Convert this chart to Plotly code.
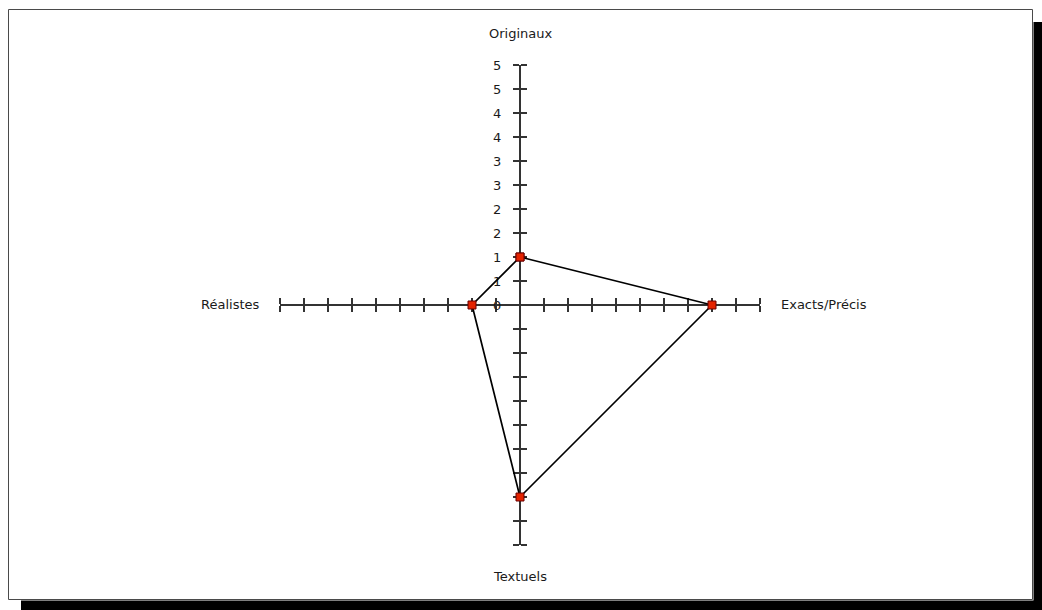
import numpy as np
import plotly.graph_objects as go

# ---- data ----
categories = ["Originaux", "Exacts/Précis", "Textuels", "Réalistes"]
values = [1, 4, 4, 1]
angles_deg = [90, 0, -90, 180]          # Excel radar: clockwise from the top
axis_max = 5
tick_step = 0.5
y_tick_values = [0, 0.5, 1, 1.5, 2, 2.5, 3, 3.5, 4, 4.5, 5]
y_tick_labels = ["0", "1", "1", "2", "2", "3", "3", "4", "4", "5", "5"]

# ---- geometry (pixels) ----
W, H = 1042, 610
L, R, T, B = 280, 282, 65, 65
PW, PH = W - L - R, H - T - B


def fx(px):
    return (px - L) / PW


def fy(py):
    return (H - B - py) / PH


ang = np.radians(angles_deg)
r = np.array(values, dtype=float)
xs = np.round(r * np.cos(ang), 9)
ys = np.round(r * np.sin(ang), 9)
xs_closed = list(xs) + [xs[0]]
ys_closed = list(ys) + [ys[0]]

all_ticks = list(np.arange(-axis_max, axis_max + tick_step / 2, tick_step))
neg_ticks = [t for t in all_ticks if t < 0]
y_vals_full = neg_ticks + y_tick_values
y_text_full = [""] * len(neg_ticks) + y_tick_labels

fig = go.Figure()
# invisible trace for the base axes
fig.add_trace(go.Scatter(x=[0], y=[0], mode="markers",
                         marker=dict(opacity=0), showlegend=False, hoverinfo="skip"))
# data on the overlay subplot so it sits above every axis line
fig.add_trace(go.Scatter(
    x=xs_closed, y=ys_closed, mode="lines+markers", xaxis="x2", yaxis="y2",
    line=dict(color="#000000", width=1.7),
    marker=dict(symbol="square", size=8, color="#e42300",
                line=dict(color="#6a0000", width=1)),
    cliponaxis=False, hoverinfo="skip", showlegend=False,
))

font = dict(family="DejaVu Sans, Liberation Sans, sans-serif", size=13, color="#1a1a1a")
axis_common = dict(range=[-axis_max, axis_max], showgrid=False, zeroline=False,
                   showline=True, linecolor="#333333", linewidth=2,
                   ticks="outside", ticklen=6, tickwidth=2, tickcolor="#333333",
                   anchor="free", position=0.5, fixedrange=True, layer="below traces")

fig.update_layout(
    width=W, height=H,
    margin=dict(l=L, r=R, t=T, b=B),
    paper_bgcolor="white", plot_bgcolor="rgba(0,0,0,0)",
    font=font,
    xaxis=dict(**axis_common, side="bottom", tickvals=all_ticks, showticklabels=False),
    xaxis2=dict(**axis_common, side="top", overlaying="x", tickvals=all_ticks, showticklabels=False),
    yaxis=dict(**axis_common, side="left", tickvals=y_vals_full, ticktext=y_text_full,
               ticklabelstandoff=9),
    yaxis2=dict(**axis_common, side="right", overlaying="y", tickvals=all_ticks, showticklabels=False),
    showlegend=False,
)

# category labels
label_pos = {
    "Originaux": dict(x=fx(520), y=fy(33), xanchor="center", yanchor="middle"),
    "Exacts/Précis": dict(x=fx(779), y=fy(304), xanchor="left", yanchor="middle"),
    "Textuels": dict(x=fx(520), y=fy(576), xanchor="center", yanchor="middle"),
    "Réalistes": dict(x=fx(262), y=fy(304), xanchor="right", yanchor="middle"),
}
for c in categories:
    fig.add_annotation(text=c, xref="paper", yref="paper", showarrow=False,
                       font=font, **label_pos[c])

# frame with drop shadow
fig.add_shape(type="rect", xref="paper", yref="paper",
              x0=fx(1033.5), x1=fx(1042), y0=fy(22), y1=fy(610),
              fillcolor="black", line=dict(width=0), layer="below")
fig.add_shape(type="rect", xref="paper", yref="paper",
              x0=fx(21), x1=fx(1042), y0=fy(600.5), y1=fy(610),
              fillcolor="black", line=dict(width=0), layer="below")
fig.add_shape(type="rect", xref="paper", yref="paper",
              x0=fx(8.5), x1=fx(1032.5), y0=fy(9.5), y1=fy(599.5),
              fillcolor="rgba(0,0,0,0)", line=dict(color="#4a4a4a", width=1), layer="below")

fig.write_html("out.html", config={"displayModeBar": False, "staticPlot": True},
               post_script="document.body.style.margin='0';document.body.style.overflow='hidden';")
